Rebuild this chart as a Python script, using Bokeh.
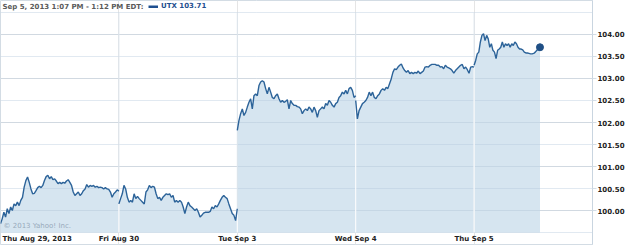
import numpy as np
from bokeh.plotting import figure
from bokeh.models import (Range1d, LinearAxis, FixedTicker, NumeralTickFormatter,
                          Legend, LegendItem)
from bokeh.core.properties import value
from bokeh.embed import file_html
from bokeh.resources import INLINE

# ---------------- data ----------------
day_labels = ["Thu Aug 29, 2013", "Fri Aug 30", "Tue Sep 3", "Wed Sep 4", "Thu Sep 5"]
session_minutes_end = [390, 390, 390, 390, 217]   # minutes after 9:30 open of last point

day1 = [99.70, 99.81, 99.96, 99.85, 100.04, 99.93, 100.08, 100.00, 100.15, 100.11, 100.19, 100.11,
        100.23, 100.30, 100.53, 100.68, 100.76, 100.64, 100.49, 100.38, 100.39, 100.45, 100.52, 100.55,
        100.52, 100.57, 100.68, 100.77, 100.80, 100.72, 100.77, 100.70, 100.72, 100.67, 100.61, 100.64,
        100.61, 100.64, 100.62, 100.67, 100.70, 100.64, 100.57, 100.42, 100.34, 100.38, 100.42, 100.34,
        100.38, 100.45, 100.49, 100.59, 100.53, 100.57, 100.55, 100.57, 100.53, 100.55, 100.52, 100.53,
        100.52, 100.49, 100.52, 100.49, 100.48, 100.42, 100.30, 100.38, 100.42, 100.47, 100.44]
day2 = [100.15, 100.27, 100.38, 100.57, 100.49, 100.30, 100.19, 100.23, 100.19, 100.38, 100.27, 100.32,
        100.27, 100.23, 100.19, 100.15, 100.42, 100.47, 100.57, 100.52, 100.55, 100.53, 100.38, 100.27,
        100.30, 100.23, 100.30, 100.34, 100.38, 100.36, 100.38, 100.30, 100.34, 100.19, 100.23, 100.19,
        100.23, 100.19, 100.08, 99.93, 100.08, 100.19, 100.11, 100.08, 100.04, 100.00, 100.04, 99.96,
        99.85, 99.89, 99.94, 99.96, 99.96, 99.96, 99.98, 100.08, 100.04, 100.11, 100.08, 100.15, 100.23,
        100.30, 100.34, 100.30, 100.27, 100.15, 100.04, 99.93, 99.89, 99.77, 100.04]
day3 = [101.82, 102.05, 102.20, 102.31, 102.16, 102.23, 102.35, 102.46, 102.54, 102.31, 102.61, 102.65,
        102.61, 102.84, 102.92, 102.95, 102.92, 102.77, 102.65, 102.80, 102.69, 102.57, 102.54, 102.61,
        102.65, 102.54, 102.46, 102.50, 102.46, 102.48, 102.52, 102.31, 102.50, 102.43, 102.39, 102.39,
        102.36, 102.35, 102.31, 102.20, 102.27, 102.31, 102.27, 102.35, 102.31, 102.23, 102.35, 102.27,
        102.12, 102.27, 102.31, 102.35, 102.31, 102.43, 102.39, 102.50, 102.46, 102.39, 102.35, 102.43,
        102.46, 102.57, 102.61, 102.69, 102.65, 102.73, 102.65, 102.77, 102.80, 102.73, 102.57, 102.61]
day4 = [102.50, 102.08, 102.27, 102.35, 102.43, 102.46, 102.50, 102.57, 102.69, 102.61, 102.69, 102.57,
        102.54, 102.61, 102.65, 102.73, 102.77, 102.73, 102.80, 102.77, 102.88, 102.99, 103.14, 103.22,
        103.20, 103.26, 103.30, 103.33, 103.24, 103.18, 103.14, 103.18, 103.11, 103.14, 103.11, 103.14,
        103.12, 103.17, 103.11, 103.14, 103.17, 103.26, 103.27, 103.26, 103.30, 103.32, 103.32, 103.32,
        103.30, 103.30, 103.26, 103.27, 103.22, 103.30, 103.26, 103.24, 103.22, 103.18, 103.12, 103.18,
        103.22, 103.26, 103.30, 103.32, 103.22, 103.26, 103.20, 103.12, 103.26, 103.27, 103.26]
day5 = [103.30, 103.41, 103.56, 103.60, 103.83, 103.98, 104.02, 103.86, 103.98, 103.90, 103.71, 103.79,
        103.64, 103.60, 103.45, 103.64, 103.67, 103.71, 103.83, 103.71, 103.79, 103.75, 103.79, 103.71,
        103.79, 103.75, 103.83, 103.79, 103.71, 103.67, 103.67, 103.65, 103.60, 103.58, 103.58, 103.57,
        103.56, 103.56, 103.57, 103.60, 103.64, 103.67, 103.71]
days = [day1, day2, day3, day4, day5]

price_ticks = [100.0, 100.5, 101.0, 101.5, 102.0, 102.5, 103.0, 103.5, 104.0]
grid_levels = [99.5, 100.0, 100.5, 101.0, 101.5, 102.0, 102.5, 103.0, 103.5, 104.0, 104.5]
header_text = "Sep 5, 2013 1:07 PM - 1:12 PM EDT:"
symbol = "UTX"
last_price = day5[-1]

# ---------------- style ----------------
FONT = "DejaVu Sans"
LINE = "#2c6399"
FILL = "#cfe0ed"
GRID = "#b4c8dc"
BASE = grid_levels[0]
TOP = grid_levels[-1]

xs, ys = [], []
for i, (d, mend) in enumerate(zip(days, session_minutes_end)):
    t = np.linspace(0, mend, len(d)) / 390.0 + i
    xs.append(list(t))
    ys.append(list(d))

p = figure(frame_width=592, frame_height=244,
           x_range=Range1d(0, 5), y_range=Range1d(99.2273, 104.7727),
           output_backend="svg", toolbar_location=None,
           x_axis_location=None, y_axis_location=None,
           min_border_left=0, min_border_top=0, min_border_bottom=2, min_border_right=33,
           outline_line_color="#d3dce4", background_fill_color="white",
           border_fill_color="white")

# fills per day
for x, y in zip(xs, ys):
    p.varea(x=x, y1=[BASE] * len(x), y2=y, fill_color=FILL, fill_alpha=0.85)

# horizontal grid lines
p.hspan(y=grid_levels, line_color=GRID, line_alpha=0.4, line_width=1)

# vertical day separators: light above area, white inside area
bounds = [1, 2, 3, 4]
p.segment(x0=bounds, y0=[BASE] * 4, x1=bounds, y1=[TOP] * 4,
          line_color="#dde5ed", line_width=1)
sep_top = [min(ys[i][-1], ys[i + 1][0]) for i in range(4)]
p.segment(x0=bounds, y0=[BASE] * 4, x1=bounds, y1=sep_top,
          line_color="white", line_width=1)

# price line
p.multi_line(xs=xs, ys=ys, line_color=LINE, line_width=1.4)
p.scatter(x=[xs[-1][-1]], y=[last_price], size=7, fill_color="#1f4f85",
          line_color="#1f4f85")

# legend swatch renderer (hidden in the plot, shown only as the legend key)
sw = p.line(x=xs[-1], y=ys[-1], line_color="#1f5090", line_width=3, visible=False)

# copyright
p.text(x=[0], y=[99.65], text=["\u00a9 2013 Yahoo! Inc."], x_offset=3,
       text_font=value(FONT), text_font_size="7px", text_color="#98aabb",
       text_baseline="middle", text_align="left")

# x labels
lab_y = 99.341
p.text(x=[0], y=[lab_y], text=[day_labels[0]], x_offset=2,
       text_font=value(FONT), text_font_size="7px", text_font_style="bold",
       text_color="#222222", text_baseline="middle", text_align="left")
p.text(x=[1, 2, 3, 4], y=[lab_y] * 4, text=day_labels[1:],
       text_font=value(FONT), text_font_size="7px", text_font_style="bold",
       text_color="#222222", text_baseline="middle", text_align="center")

# header
hdr_y = 104.636
p.text(x=[0], y=[hdr_y], text=[header_text], x_offset=2,
       text_font=value(FONT), text_font_size="7px", text_font_style="bold",
       text_color="#5a5a5a", text_baseline="middle", text_align="left")

legend = Legend(items=[LegendItem(label=f"{symbol} {last_price:.2f}", renderers=[sw])],
                location=(148, 232), orientation="horizontal",
                glyph_width=10, glyph_height=3, label_height=12, label_standoff=3,
                padding=0, margin=0, spacing=0,
                border_line_color=None, background_fill_alpha=0,
                label_text_font=FONT, label_text_font_size="7px",
                label_text_font_style="bold", label_text_color="#1f5090")
p.add_layout(legend, "center")

# right axis
ax = LinearAxis(ticker=FixedTicker(ticks=price_ticks),
                formatter=NumeralTickFormatter(format="0.00"))
ax.axis_line_color = "#c9d5e0"
ax.major_tick_out = 4
ax.major_tick_in = 0
ax.major_tick_line_color = "#d3dde6"
ax.minor_tick_line_color = None
ax.major_label_standoff = 1
ax.major_label_text_font = FONT
ax.major_label_text_font_size = "7px"
ax.major_label_text_font_style = "bold"
ax.major_label_text_color = "#222222"
p.add_layout(ax, "right")

open("out.html", "w").write(file_html(p, INLINE))
